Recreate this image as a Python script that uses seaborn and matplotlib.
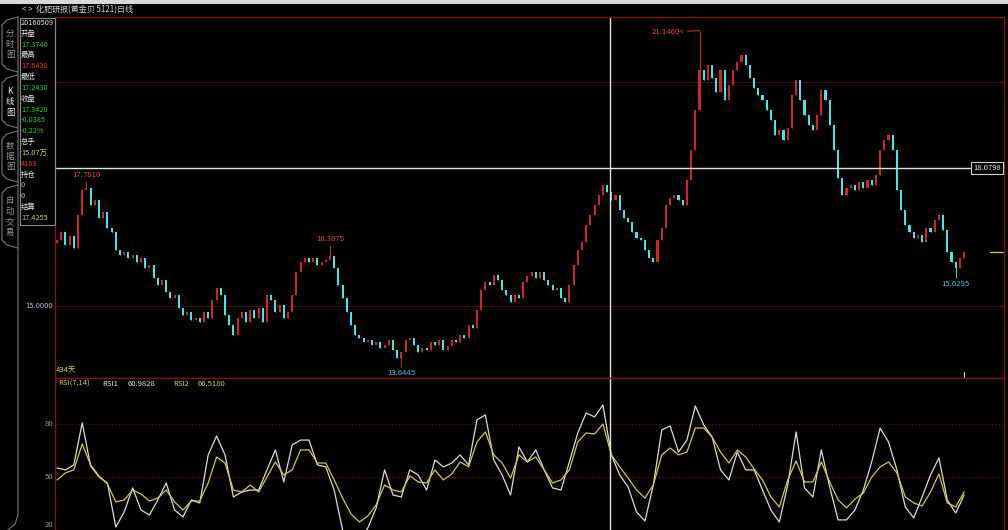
import matplotlib
matplotlib.use("Agg")
import matplotlib.pyplot as plt
import seaborn as sns
import numpy as np
import pandas as pd
from matplotlib.lines import Line2D
from matplotlib.patches import Rectangle

# ---- values ----
title = "< >  化肥研报(黄金贝 5121)日线"
days_label = "434天"

# closing prices, one candle per two trading days
closes = [
    16.47, 16.65, 16.36, 16.56, 16.29, 17.03, 17.59, 17.63, 17.25, 17.37,
    16.96, 17.10, 16.74, 16.65, 16.25, 16.14, 16.21, 16.07, 16.14, 15.98,
    16.07, 15.85, 15.92, 15.63, 15.47, 15.58, 15.31, 15.18, 15.25, 14.96,
    14.80, 14.87, 14.69, 14.73, 14.64, 14.87, 14.73, 15.13, 15.40, 15.25,
    14.80, 14.58, 14.35, 14.73, 14.87, 14.64, 14.91, 14.73, 14.96, 14.64,
    15.25, 15.13, 14.87, 15.02, 14.73, 14.87, 15.25, 15.76, 15.98, 16.07,
    15.98, 16.07, 15.92, 15.98, 16.03, 16.12, 15.85, 15.47, 15.18, 14.87,
    14.58, 14.35, 14.29, 14.20, 14.24, 14.13, 14.20, 14.06, 14.13, 14.24,
    14.02, 13.84, 13.97, 14.24, 14.29, 14.13, 13.97, 14.06, 14.02, 14.20,
    14.13, 14.24, 14.02, 14.11, 14.24, 14.20, 14.35, 14.29, 14.58, 14.51,
    14.91, 15.36, 15.54, 15.47, 15.69, 15.58, 15.36, 15.25, 15.09, 15.25,
    15.18, 15.54, 15.67, 15.76, 15.63, 15.76, 15.58, 15.47, 15.36, 15.40,
    15.18, 15.09, 15.47, 15.92, 16.25, 16.43, 16.81, 17.03, 17.25, 17.48,
    17.70, 17.54, 17.37, 17.48, 17.14, 16.96, 16.88, 16.65, 16.52, 16.47,
    16.25, 16.07, 15.98, 16.47, 16.74, 17.25, 17.41, 17.48, 17.37, 17.25,
    17.81, 18.48, 19.38, 20.27, 20.04, 20.38, 20.09, 19.78, 20.27, 19.60,
    19.93, 20.27, 20.45, 20.60, 20.38, 20.09, 19.87, 19.71, 19.60, 19.38,
    19.15, 18.82, 18.93, 18.71, 18.97, 19.71, 20.04, 19.60, 19.26, 19.04,
    18.93, 19.26, 19.82, 19.60, 19.04, 18.48, 17.86, 17.48, 17.63, 17.70,
    17.59, 17.77, 17.63, 17.81, 17.70, 17.92, 18.48, 18.71, 18.82, 18.48,
    17.59, 17.14, 16.81, 16.65, 16.52, 16.59, 16.43, 16.74, 16.65, 16.92,
    17.03, 16.70, 16.21, 15.98, 15.85, 16.07, 16.21,
]
first_open = 16.40
peak_highs = {7: 17.781, 65: 16.3675, 153: 21.146}
trough_lows = {82: 13.6445, 214: 15.6295}

# RSI samples, one every two candles
rsi1 = [
    55.1, 54.0, 56.8, 80.6, 56.2, 50.0, 46.6, 21.7, 30.2, 43.8,
    31.3, 28.5, 37.0, 46.6, 31.3, 27.4, 37.0, 35.3, 62.5, 73.2,
    62.5, 38.7, 41.5, 42.6, 42.6, 54.0, 65.3, 47.2, 68.1, 70.9,
    70.9, 56.8, 55.7, 42.6, 20.0, 15.5, 14.3, 21.1, 32.5, 54.0,
    39.8, 38.7, 54.0, 51.1, 42.6, 59.6, 55.7, 57.9, 62.5, 56.8,
    82.3, 85.1, 59.6, 51.1, 39.8, 67.0, 58.5, 65.3, 54.0, 43.8,
    42.6, 58.5, 74.9, 86.2, 84.0, 90.7, 62.5, 51.1, 44.3, 30.2,
    25.1, 45.5, 76.6, 78.9, 64.1, 70.9, 90.2, 79.4, 72.6, 54.0,
    48.3, 64.1, 54.0, 54.0, 42.6, 31.3, 24.5, 45.5, 75.5, 43.8,
    38.7, 65.3, 44.3, 25.7, 25.7, 31.3, 42.6, 58.5, 77.7, 69.8,
    54.0, 33.0, 26.8, 38.7, 51.1, 60.8, 37.0, 29.6, 39.8,
]
rsi2 = [
    48.3, 52.3, 54.0, 68.7, 56.8, 50.6, 46.0, 35.9, 37.0, 42.6,
    40.4, 36.4, 38.1, 42.6, 35.9, 31.3, 36.4, 36.4, 46.6, 61.3,
    57.9, 42.6, 41.5, 45.5, 41.5, 50.0, 58.5, 51.1, 54.0, 65.3,
    65.3, 57.9, 57.9, 48.3, 38.1, 29.1, 24.5, 27.9, 34.2, 45.5,
    42.6, 41.5, 50.6, 47.2, 46.6, 54.0, 48.3, 51.7, 58.5, 55.7,
    69.8, 75.5, 62.5, 57.9, 49.4, 62.5, 58.5, 61.3, 54.0, 46.6,
    48.3, 54.0, 69.8, 74.9, 74.3, 80.0, 62.5, 55.7, 49.4, 42.6,
    38.1, 45.5, 62.5, 66.4, 62.5, 64.1, 77.7, 77.7, 72.6, 64.1,
    57.9, 65.3, 61.3, 54.5, 48.3, 38.7, 33.0, 48.3, 59.1, 47.2,
    47.2, 58.5, 47.2, 37.0, 32.5, 37.5, 40.9, 50.0, 55.7, 58.5,
    52.3, 38.7, 35.3, 33.6, 41.5, 51.7, 35.3, 33.0, 41.5,
]
rsi_every = 2

cross_x = 131.7
cross_price = 18.0798
price_grid = [15.0, 20.0]
rsi_grid = [80, 50]
rsi_labels = [80, 50, 20]
rsi_header = [("RSI(7,14)", "y"), ("RSI1", "w"), ("60.9828", "w"), ("RSI2", "y"), ("66.5180", "y")]

info_rows = [
    ("20160509", "w"), ("开盘", "w"), ("17.3740", "g"), ("最高", "w"), ("17.6430", "r"),
    ("最低", "w"), ("17.2430", "g"), ("收盘", "w"), ("17.3420", "g"), ("-0.0385", "g"),
    ("-0.22%", "g"), ("总手", "w"), ("15.07万", "y"), ("4163", "r"), ("持仓", "w"),
    ("0", "y"), ("0", "y"), ("结算", "w"), ("17.4255", "y"),
]
tabs = [["分", "时", "图"], ["K", "线", "图"], ["数", "据", "图"], ["自", "动", "交", "易"]]

# ---- style ----
pal = {"w": "#e6e6e6", "g": "#2ccf2c", "r": "#e83a3a", "y": "#d6d24a"}
up_col, down_col = "#c82828", "#4ae2e6"
frame_red = "#7c1616"

sns.set_style("dark", {"axes.facecolor": "black", "figure.facecolor": "black",
                       "axes.edgecolor": frame_red, "grid.color": "black"})
plt.rcParams["font.family"] = ["Noto Sans CJK SC", "DejaVu Sans"]

W, H = 1008, 530
fig = plt.figure(figsize=(W / 100, H / 100), dpi=100)


def fx(x):
    return x / W


def fy(y):
    return 1 - y / H


def ftext(x, y, s, **kw):
    kw.setdefault("fontsize", 5.5)
    kw.setdefault("va", "center")
    fig.text(fx(x), fy(y), s, **kw)


def fline(pts, **kw):
    xs = [fx(p[0]) for p in pts]
    ys = [fy(p[1]) for p in pts]
    fig.add_artist(Line2D(xs, ys, transform=fig.transFigure, **kw))


ax = fig.add_axes([fx(55), fy(378), fx(1004) - fx(55), (378 - 17) / H])
ax2 = fig.add_axes([fx(55), 0, fx(1004) - fx(55), fy(378)])

# ---- candles ----
df = pd.DataFrame({"close": closes})
df["open"] = [first_open] + closes[:-1]
df["high"] = df[["open", "close"]].max(axis=1)
df["low"] = df[["open", "close"]].min(axis=1)
for k, v in peak_highs.items():
    df.loc[k, "high"] = v
for k, v in trough_lows.items():
    df.loc[k, "low"] = v
xs = np.arange(len(df))
cols = np.where(df["close"] >= df["open"], up_col, down_col)

for p in price_grid:
    ax.axhline(p, color="#4c0b0b", lw=0.8, zorder=0)
ax.vlines(xs, df["low"], df["high"], colors=cols, lw=0.7)
body = (df["close"] - df["open"]).abs().clip(lower=0.025)
ax.bar(xs, body, bottom=df[["open", "close"]].min(axis=1), width=0.5, color=cols, linewidth=0)

for k, v in peak_highs.items():
    if v == max(peak_highs.values()):
        ax.annotate(f"{v:.4f}<", xy=(k, v), xytext=(-11, -1), textcoords="offset points",
                    ha="right", va="center", color="#e04848", fontsize=5.6,
                    arrowprops=dict(arrowstyle="-", color="#c03030", lw=0.8,
                                    shrinkA=0, shrinkB=0))
    else:
        ax.annotate(f"{v:.4f}", xy=(k, v), xytext=(0, 1.5), textcoords="offset points",
                    ha="center", va="bottom", color="#e04848", fontsize=5.6)
for k, v in trough_lows.items():
    ax.annotate(f"{v:.4f}", xy=(k, v), xytext=(0, -1.5), textcoords="offset points",
                ha="center", va="top", color="#46c6d8", fontsize=5.6)

ax.axvline(cross_x, color="#e4e4e4", lw=1.0)
ax.axhline(cross_price, xmax=0.964, color="#e4e4e4", lw=1.0)
ax.plot([0.985, 0.999], [closes[-1], closes[-1]], transform=ax.get_yaxis_transform(),
        color="#c8c060", lw=1.0)
ax.plot([len(closes) - 1] * 2, [0, 0.017], transform=ax.get_xaxis_transform(),
        color="#e0e0e0", lw=0.8)

ax.set_xlim(-0.48, 225.5)
ax.set_ylim(13.393, 21.451)

# ---- RSI panel ----
rsi_df = pd.DataFrame({"x": np.arange(len(rsi1)) * rsi_every, "RSI1": rsi1, "RSI2": rsi2})
for g in rsi_grid:
    ax2.axhline(g, color="#6a1212", lw=0.8, ls=(0, (1, 2)), zorder=0)
sns.lineplot(data=rsi_df, x="x", y="RSI1", ax=ax2, color="#dcdcdc", lw=0.9)
sns.lineplot(data=rsi_df, x="x", y="RSI2", ax=ax2, color="#cfcc44", lw=0.9)
ax2.axvline(cross_x, color="#e4e4e4", lw=1.0)
ax2.set_xlim(-0.48, 225.5)
ax2.set_ylim(20, 106)

for a in (ax, ax2):
    a.set_xticks([])
    a.set_yticks([])
    a.set_xlabel("")
    a.set_ylabel("")
    a.grid(False)
    for s in a.spines.values():
        s.set_color(frame_red)
        s.set_linewidth(1.0)
ax2.spines["bottom"].set_visible(False)

# ---- labels around the panels ----
fig.add_artist(Rectangle((0, fy(4)), 1, 4 / H, transform=fig.transFigure,
                         color="#d8d8d8", lw=0))
ftext(22, 10, title, color="#d0d0d0", fontsize=5.8)

ftext(53, 306, "15.0000", color="#c4bcd6", ha="right")
for r in rsi_labels:
    ftext(53, min(477 - (r - 50) * 1.767, 525), str(r), color="#9a9a9a", ha="right")
ftext(56, 371, days_label, color=pal["y"])

hx = [58, 102, 128, 173, 198]
for (s, c), x0 in zip(rsi_header, hx):
    ftext(x0, 384, s, color=pal[c])

ftext(987, 168, f"{cross_price:.4f}", color="#f0f0f0", ha="center",
      bbox=dict(boxstyle="square,pad=0.25", fc="black", ec="#d0d0d0", lw=0.8))

# info box
fig.add_artist(Rectangle((fx(20), fy(225)), fx(55) - fx(20), (225 - 18) / H,
                         transform=fig.transFigure, fc="black", ec="#8c8c8c", lw=0.8))
for i, (s, c) in enumerate(info_rows):
    ftext(21, 23 + i * 10.83, s, color=pal[c], fontsize=5.3)

# side tabs
tab_spans = [(17, 72), (75, 128), (131, 182), (185, 248)]
for (t0, t1), chars in zip(tab_spans, tabs):
    fline([(18, t0), (7, t0 + 3), (2, t0 + 8), (2, t1 - 8), (7, t1 - 3), (18, t1)],
          color="#6c6c6c", lw=0.9)
    mid = (t0 + t1) / 2
    for j, ch in enumerate(chars):
        ftext(10, mid + (j - (len(chars) - 1) / 2) * 10.5, ch,
              color="#f0f0f0" if chars[0] == "K" else "#9c9c9c", ha="center", fontsize=6)
fline([(18, 17), (18, 515), (15, 524), (8, 530)], color="#6c6c6c", lw=0.9)

fig.savefig("out.png", dpi=100, facecolor="black")
